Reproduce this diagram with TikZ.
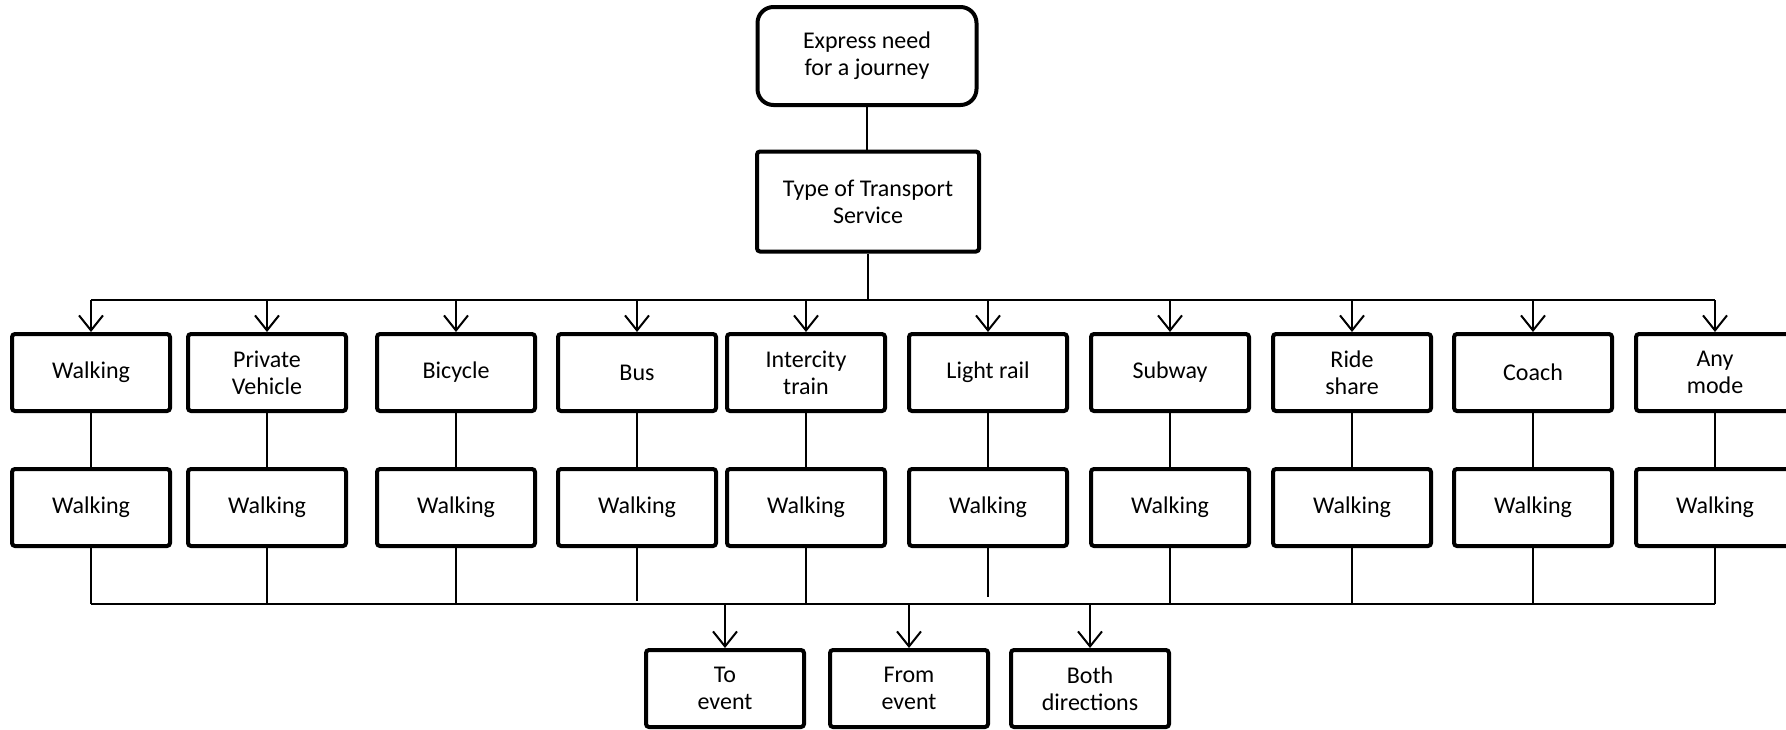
\documentclass[tikz,border=0pt]{standalone}
\usepackage{fontspec}
\setmainfont{Carlito}
\usetikzlibrary{arrows.meta}
\begin{document}
\begin{tikzpicture}[x=1pt,y=-1pt,
  box/.style={draw,line width=4pt,rounded corners=3pt,minimum width=158pt,minimum height=77pt,inner sep=0pt,align=center,font=\fontsize{24}{27}\selectfont},
  startbox/.style={box,rounded corners=16pt,minimum width=219pt,minimum height=98pt},
  typebox/.style={box,minimum width=222pt,minimum height=100pt},
  conn/.style={line width=2pt},
  arr/.style={conn,-{Straight Barb[length=15pt,width=24pt]}}]
\useasboundingbox (0,0) rectangle (1786,729);
\clip (0,0) rectangle (1786,729);
\node[startbox] (start) at (867,56) {Express need\\for a journey};
\node[typebox] (type) at (868,201.5) {Type of Transport\\Service};
\draw[conn] (start) -- (start |- type.north);
\foreach \i/\x/\t in {1/91/Walking,2/267/Private\\Vehicle,3/456/Bicycle,4/637/Bus,5/806/Intercity\\train,6/988/Light rail,7/1170/Subway,8/1352/Ride\\share,9/1533/Coach,10/1715/Any\\mode}{
  \node[box] (m\i) at (\x,372.5) {\t};
  \node[box] (w\i) at (\x,507.5) {Walking};
  \coordinate (t\i) at (\x,300);
  \coordinate (b\i) at (\x,604);
  \draw[arr] (t\i) -- (m\i.north);
  \draw[conn] (m\i) -- (w\i);
}
\foreach \i in {1,2,3,5,7,8,9,10}{\draw[conn] (w\i.south) -- (b\i);}
\draw[conn,shorten >=3pt] (w4.south) -- (b4);
\draw[conn,shorten >=7pt] (w6.south) -- (b6);
\draw[conn] (type) -- (type |- t1);
\draw[conn] (t1) -- (t10);
\draw[conn] (b1) -- (b10);
\node[box] (to) at (725,688.5) {To\\event};
\node[box] (from) at (909,688.5) {From\\event};
\node[box] (both) at (1090,688.5) {Both\\directions};
\draw[arr] (to |- b1) -- (to.north);
\draw[arr] (from |- b1) -- (from.north);
\draw[arr] (both |- b1) -- (both.north);
\end{tikzpicture}
\end{document}
